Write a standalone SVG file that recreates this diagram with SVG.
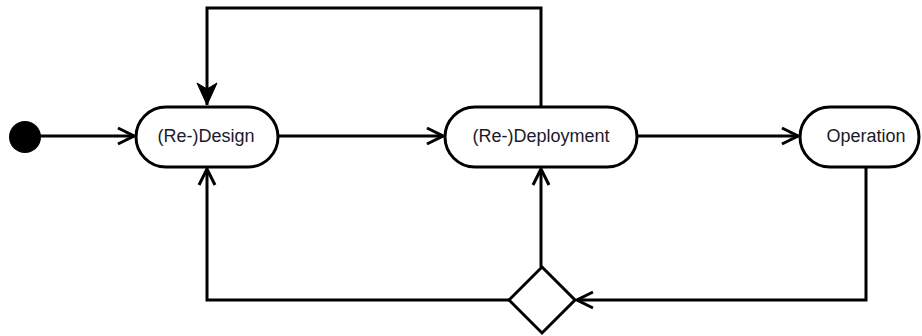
<svg xmlns="http://www.w3.org/2000/svg" width="922" height="336" viewBox="0 0 922 336">
<style>
.node{fill:#fff;stroke:#000;stroke-width:3}
.lbl{font-family:"Liberation Sans",Arial,sans-serif;font-size:18px;fill:#1a1a2a;text-anchor:middle;dominant-baseline:central}
.edge{fill:none;stroke:#000;stroke-width:3}
</style>
<defs>
<marker id="open" markerUnits="userSpaceOnUse" viewBox="-18 -10 20 20" markerWidth="20" markerHeight="20" refX="0" refY="0" orient="auto">
<path d="M-16,-8 L0,0 L-16,8" fill="none" stroke="#000" stroke-width="3"/>
</marker>
<marker id="filled" markerUnits="userSpaceOnUse" viewBox="-24 -12 26 24" markerWidth="26" markerHeight="24" refX="0" refY="0" orient="auto">
<path d="M-22,-10 L0,0 L-22,10 L-16,0 Z" fill="#000" stroke="#000" stroke-width="1"/>
</marker>
</defs>
<g id="connectors">
<line class="edge" x1="40" y1="136" x2="134" y2="136" marker-end="url(#open)"/>
<line class="edge" x1="278" y1="136" x2="443" y2="136" marker-end="url(#open)"/>
<line class="edge" x1="637" y1="136" x2="798" y2="136" marker-end="url(#open)"/>
<polyline class="edge" points="541,107 541,8 207,8 207,105" marker-end="url(#filled)"/>
<polyline class="edge" points="866,167 866,300 577,300" marker-end="url(#open)"/>
<polyline class="edge" points="509,300 207,300 207,169" marker-end="url(#open)"/>
<line class="edge" x1="541" y1="267" x2="541" y2="169" marker-end="url(#open)"/>
</g>
<g id="start"><circle cx="25" cy="137" r="16" fill="#000"/></g>
<g id="design"><rect class="node" x="136" y="107" width="142" height="60" rx="30"/><text class="lbl" x="206" y="136">(Re-)Design</text></g>
<g id="deployment"><rect class="node" x="445" y="107" width="192" height="60" rx="30"/><text class="lbl" x="541" y="136">(Re-)Deployment</text></g>
<g id="operation"><rect class="node" x="800" y="107" width="119" height="60" rx="30"/><text class="lbl" x="866" y="136">Operation</text></g>
<g id="decision"><polygon class="node" points="542,267 575,300 542,333 509,300"/></g>
</svg>
